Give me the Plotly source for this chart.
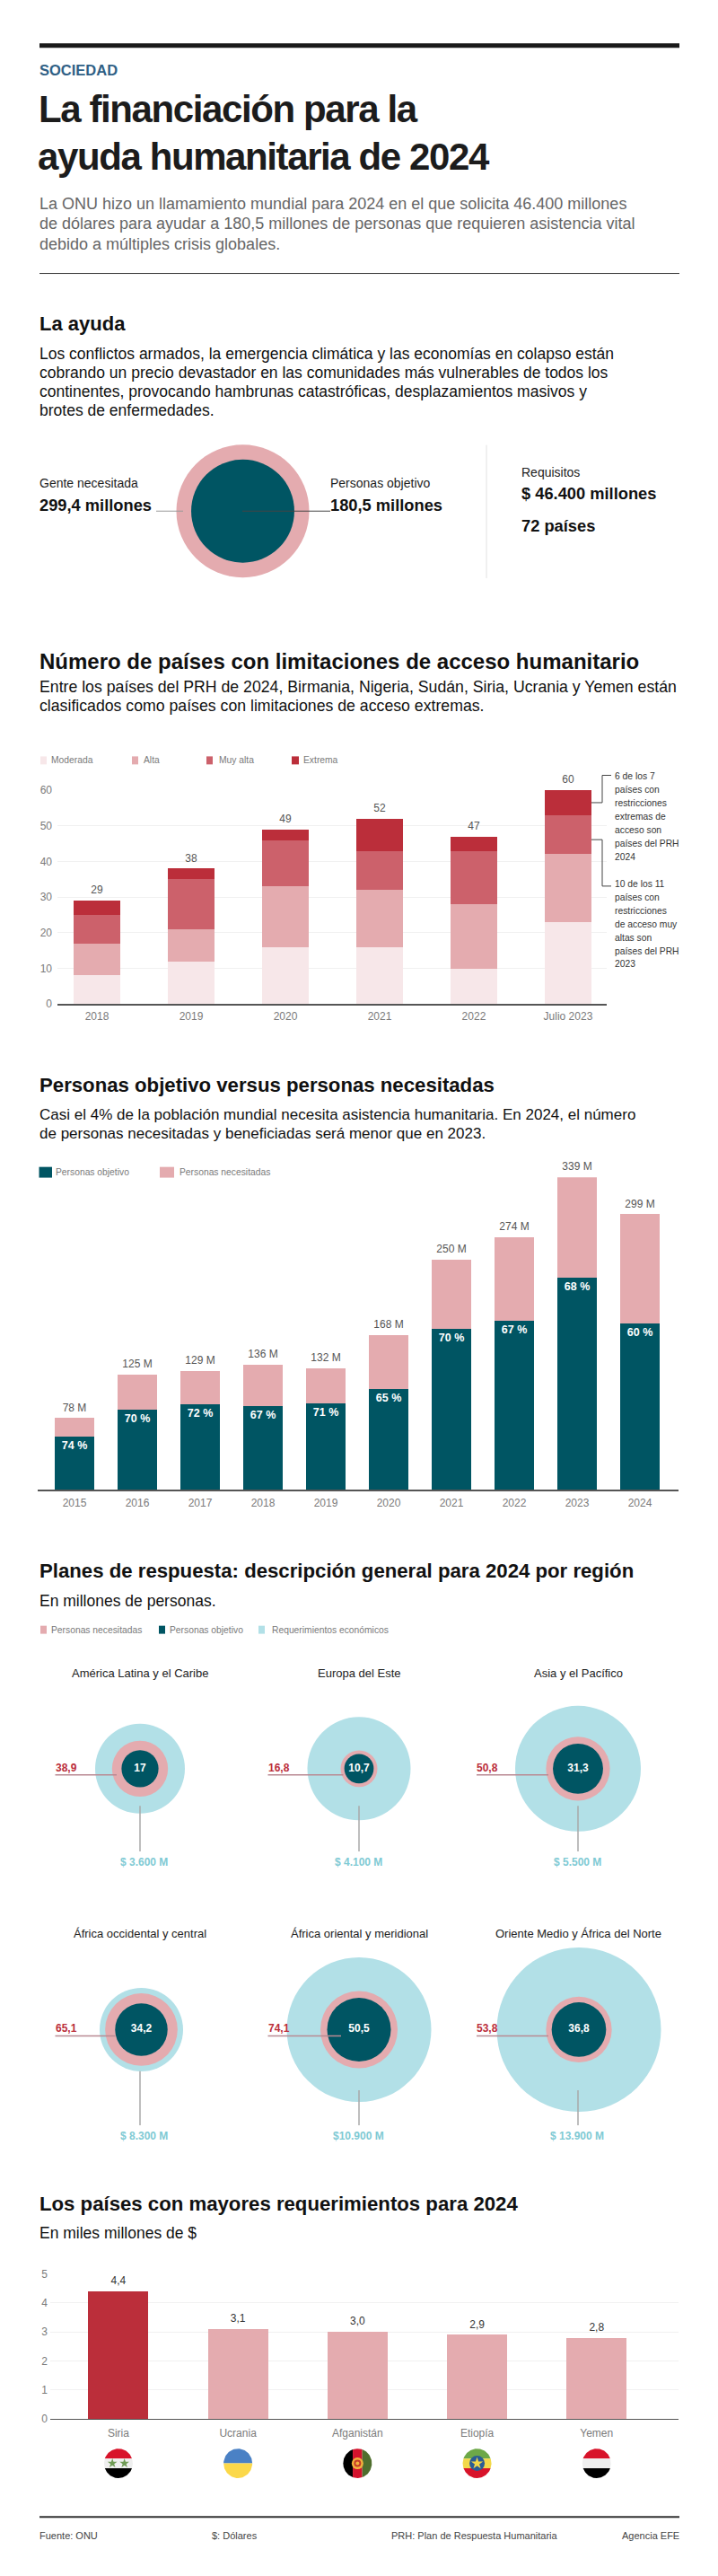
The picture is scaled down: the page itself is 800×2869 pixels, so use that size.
import json
import numpy as np
import plotly.graph_objects as go

W, H = 800, 2869
SANS = "Liberation Sans"

# ---- data ----
need_total = 299.4
need_target = 180.5

access_years = ["2018", "2019", "2020", "2021", "2022", "Julio 2023"]
access_moderada = [8, 12, 16, 16, 10, 23]
access_alta = [9, 9, 17, 16, 18, 19]
access_muy_alta = [8, 14, 13, 11, 15, 11]
access_extrema = [4, 3, 3, 9, 4, 7]
access_totals = [29, 38, 49, 52, 47, 60]

people_years = ["2015", "2016", "2017", "2018", "2019", "2020", "2021", "2022", "2023", "2024"]
people_needed = [78, 125, 129, 136, 132, 168, 250, 274, 339, 299]
people_target = [57.7, 87.5, 92.9, 91, 93.7, 109, 174.5, 183, 230.5, 180.5]
people_pct = ["74 %", "70 %", "72 %", "67 %", "71 %", "65 %", "70 %", "67 %", "68 %", "60 %"]

regions = ["América Latina y el Caribe", "Europa del Este", "Asia y el Pacífico",
           "África occidental y central", "África oriental y meridional", "Oriente Medio y África del Norte"]
region_needed = [38.9, 16.8, 50.8, 65.1, 74.1, 53.8]
region_target = [17, 10.7, 31.3, 34.2, 50.5, 36.8]
region_needed_lbl = ["38,9", "16,8", "50,8", "65,1", "74,1", "53,8"]
region_target_lbl = ["17", "10,7", "31,3", "34,2", "50,5", "36,8"]
region_req_lbl = ["$ 3.600 M", "$ 4.100 M", "$ 5.500 M", "$ 8.300 M", "$10.900 M", "$ 13.900 M"]
region_req_bubble = [100, 115, 140, 93, 161, 183]  # as drawn in the picture (not proportional to $)

countries = ["Siria", "Ucrania", "Afganistán", "Etiopía", "Yemen"]
country_req = [4.4, 3.1, 3.0, 2.9, 2.8]
country_lbl = ["4,4", "3,1", "3,0", "2,9", "2,8"]

# ---- colours ----
TEAL, PINK, LBLUE, RED = "#005563", "#e4abaf", "#b2e0e7", "#bb2e3a"
MOD, MUY = "#f7e7e9", "#cc616b"
GRAY, DGRAY, GRID = "#7a7a7a", "#555555", "#f1f1f1"


def px(x):
    return x / W


def py(y):
    return 1 - y / H


fig = go.Figure()
ann, shp = [], []


def text(x, y, s, size, color="#111111", bold=False, anchor="left"):
    ann.append(dict(x=px(x), y=py(y), xref="paper", yref="paper", text=s, showarrow=False,
                    xanchor=anchor, yanchor="middle", align=anchor, borderpad=0, borderwidth=0,
                    font=dict(family=SANS, size=size, color=color, weight=700 if bold else 400)))


def rule(x0, y0, x1, y1, color, width=1):
    shp.append(dict(type="line", xref="paper", yref="paper", x0=px(x0), y0=py(y0), x1=px(x1), y1=py(y1),
                    line=dict(color=color, width=width)))


def box(x0, y0, x1, y1, color):
    shp.append(dict(type="rect", xref="paper", yref="paper", x0=px(x0), y0=py(y0), x1=px(x1), y1=py(y1),
                    fillcolor=color, line=dict(width=0)))


# ---- header ----
rule(44, 44, 757, 44, "#1a1a1a", 5)
text(44, 71.5, "SOCIEDAD", 16.5, "#2f6085", True)
TITLE_LINES = ["La financiación para la", "ayuda humanitaria de 2024"]
text(43, 115, TITLE_LINES[0], 42, "#1c1c1c", True)
text(42, 168, TITLE_LINES[1], 42, "#1c1c1c", True)
for y, s in zip([221, 243.5, 266], ["La ONU hizo un llamamiento mundial para 2024 en el que solicita 46.400 millones",
                                    "de dólares para ayudar a 180,5 millones de personas que requieren asistencia vital",
                                    "debido a múltiples crisis globales."]):
    text(44, y, s, 18, "#666666")
rule(44, 299, 757, 299, "#333333", 1)

# ---- La ayuda ----
text(44, 355, "La ayuda", 22, "#111111", True)
for y, s in zip([389, 410, 431, 452], ["Los conflictos armados, la emergencia climática y las economías en colapso están",
                                       "cobrando un precio devastador en las comunidades más vulnerables de todos los",
                                       "continentes, provocando hambrunas catastróficas, desplazamientos masivos y",
                                       "brotes de enfermedades."]):
    text(44, y, s, 17.5)

K_MAIN = 148 / np.sqrt(need_total)
fig.add_trace(go.Scatter(x=[0], y=[0], mode="markers", xaxis="x5", yaxis="y5", hoverinfo="skip",
                         marker=dict(size=K_MAIN * np.sqrt(need_total), color=PINK, line=dict(width=0))))
fig.add_trace(go.Scatter(x=[0], y=[0], mode="markers", xaxis="x5", yaxis="y5", hoverinfo="skip",
                         marker=dict(size=K_MAIN * np.sqrt(need_target), color=TEAL, line=dict(width=0))))
text(44, 534, "Gente necesitada", 14, "#222222")
text(44, 558, "299,4 millones", 18.3, "#111111", True)
rule(174, 565, 204, 565, "#999999", 1)
text(368, 534, "Personas objetivo", 14, "#222222")
text(368, 558, "180,5 millones", 18.3, "#111111", True)
rule(270, 565, 368, 565, "#444444", 1)
rule(542, 491, 542, 640, "#e2e2e2", 1)
text(580.5, 522, "Requisitos", 14, "#222222")
text(580.5, 545.5, "$ 46.400 millones", 18.3, "#111111", True)
text(580.5, 581, "72 países", 18.3, "#111111", True)

# ---- access ----
text(44, 733, "Número de países con limitaciones de acceso humanitario", 24, "#111111", True)
text(44, 762, "Entre los países del PRH de 2024, Birmania, Nigeria, Sudán, Siria, Ucrania y Yemen están", 17.7)
text(44, 783, "clasificados como países con limitaciones de acceso extremas.", 17.7)
for x0, x1, c, tx, s in [(45, 52, MOD, 57, "Moderada"), (147, 154, PINK, 160, "Alta"),
                         (230, 237, MUY, 244, "Muy alta"), (325, 333, RED, 338, "Extrema")]:
    box(x0, 839.5, x1, 848.5, c)
    text(tx, 844, s, 10.3, GRAY)
for name, vals, c in [("Moderada", access_moderada, MOD), ("Alta", access_alta, PINK),
                      ("Muy alta", access_muy_alta, MUY), ("Extrema", access_extrema, RED)]:
    fig.add_trace(go.Bar(x=access_years, y=vals, name=name, width=0.5, marker=dict(color=c, line=dict(width=0)),
                         xaxis="x", yaxis="y", showlegend=False, hoverinfo="skip"))
fig.add_trace(go.Scatter(x=access_years, y=access_totals, text=[str(v) for v in access_totals], mode="markers+text",
                         marker=dict(size=6, opacity=0), textposition="top center", xaxis="x", yaxis="y",
                         cliponaxis=False, hoverinfo="skip",
                         textfont=dict(family=SANS, size=12, color=DGRAY)))
for y, s in zip([861.3, 876.7, 891.7, 906.7, 921.7, 936.7, 951.7],
                ["6 de los 7", "países con", "restricciones", "extremas de", "acceso son", "países del PRH", "2024"]):
    text(685, y, s, 10.3, "#333333")
for y, s in zip([982, 997.3, 1012.3, 1027.3, 1042.3, 1057.3, 1072],
                ["10 de los 11", "países con", "restricciones", "de acceso muy", "altas son", "países del PRH", "2023"]):
    text(685, y, s, 10.3, "#333333")
for pts in [[(659, 891.3), (671, 891.3), (671, 860.7), (681, 860.7)],
            [(659, 932.7), (671, 932.7), (671, 984.7), (681, 984.7)]]:
    for a, b in zip(pts[:-1], pts[1:]):
        rule(a[0], a[1], b[0], b[1], "#444444", 1)

# ---- people ----
text(44, 1207.5, "Personas objetivo versus personas necesitadas", 22.2, "#111111", True)
text(44, 1240.5, "Casi el 4% de la población mundial necesita asistencia humanitaria. En 2024, el número", 17)
text(44, 1262, "de personas necesitadas y beneficiadas será menor que en 2023.", 17)
box(43.5, 1299, 58, 1311, TEAL)
text(62, 1305, "Personas objetivo", 10.3, GRAY)
box(178, 1299, 194, 1311, PINK)
text(199.5, 1305, "Personas necesitadas", 10.3, GRAY)
fig.add_trace(go.Bar(x=people_years, y=people_target, width=0.634, marker=dict(color=TEAL, line=dict(width=0)),
                     text=people_pct, textposition="inside", insidetextanchor="end", textangle=0,
                     textfont=dict(family=SANS, size=12.5, color="white", weight=700),
                     xaxis="x2", yaxis="y2", showlegend=False, hoverinfo="skip"))
fig.add_trace(go.Bar(x=people_years, y=[n - t for n, t in zip(people_needed, people_target)], width=0.634,
                     marker=dict(color=PINK, line=dict(width=0)),
                     xaxis="x2", yaxis="y2", showlegend=False, hoverinfo="skip"))
fig.add_trace(go.Scatter(x=people_years, y=people_needed, text=[f"{v} M" for v in people_needed], mode="markers+text",
                         marker=dict(size=6, opacity=0), textposition="top center", xaxis="x2", yaxis="y2",
                         cliponaxis=False, hoverinfo="skip",
                         textfont=dict(family=SANS, size=12, color=DGRAY)))

# ---- regions ----
text(44, 1751, "Planes de respuesta: descripción general para 2024 por región", 22.2, "#111111", True)
text(44, 1784.5, "En millones de personas.", 17.5)
for x0, x1, c, tx, s in [(45, 52, PINK, 57, "Personas necesitadas"), (177, 184, TEAL, 189, "Personas objetivo"),
                         (288, 295, LBLUE, 302.5, "Requerimientos económicos")]:
    box(x0, 1812.5, x1, 1821.5, c)
    text(tx, 1817, s, 10.3, GRAY)

COLS = [156, 400, 644]
ROWS = [1972.5, 2264.5]
col_idx = [0, 1, 2, 0, 1, 2]
row_idx = [0, 0, 0, 1, 1, 1]
K_REG = 10.0
DX = [0, 0, 0, 1.5, 0, 1]
xpos = [c + d / 244 for c, d in zip(col_idx, DX)]
for sizes, c in [(region_req_bubble, LBLUE), ([K_REG * np.sqrt(v) for v in region_needed], PINK),
                 ([K_REG * np.sqrt(v) for v in region_target], TEAL)]:
    fig.add_trace(go.Scatter(x=xpos, y=row_idx, mode="markers", xaxis="x4", yaxis="y4", hoverinfo="skip",
                             marker=dict(size=sizes, sizemode="diameter", color=c, line=dict(width=0), opacity=1)))
fig.add_trace(go.Scatter(x=xpos, y=row_idx, mode="text", text=region_target_lbl, xaxis="x4", yaxis="y4",
                         textposition="middle center", hoverinfo="skip",
                         textfont=dict(family=SANS, size=12, color="white", weight=700)))

LBLX = [61.5, 298.5, 531]
LINE_END = [130, 382.5, 611, 128.5, 380, 611]
STEM_Y0 = [2014, 2014, 2014, 2311, 2332.5, 2332.5]
REQ_X = [160.5, 399.5, 643]
for i, name in enumerate(regions):
    c, r = col_idx[i], row_idx[i]
    cx, cy = COLS[c], ROWS[r]
    text(cx, 1865.5 + r * 292, name, 13, "#222222", anchor="center")
    text(LBLX[c], cy - 1, region_needed_lbl[i], 12, RED, True)
    ly = cy + 7
    rule(LBLX[c], ly, LINE_END[i], ly, "#b98a93", 1.5)
    rule(cx, STEM_Y0[i], cx, cy + 92.5 if r == 0 else cy + 107, "#a9a9a9", 1.5)
    text(REQ_X[c], cy + 104.5 if r == 0 else cy + 119.5, region_req_lbl[i], 12, "#7fcad4", True, anchor="center")

# ---- countries ----
text(44, 2459, "Los países con mayores requerimientos para 2024", 22.2, "#111111", True)
text(44, 2492, "En miles millones de $", 17.5)
fig.add_trace(go.Bar(x=countries, y=country_req, width=0.503, xaxis="x3", yaxis="y3", showlegend=False,
                     marker=dict(color=[RED] + [PINK] * 4, line=dict(width=0)), hoverinfo="skip"))
fig.add_trace(go.Scatter(x=countries, y=country_req, text=country_lbl, mode="markers+text", textposition="top center",
                         marker=dict(size=6, opacity=0), xaxis="x3", yaxis="y3", cliponaxis=False, hoverinfo="skip",
                         textfont=dict(family=SANS, size=12, color="#333333")))

# flags: circular bands
FLAG_UX, FLAG_R = 16 / 133.2, 16.5


def flag_band(i, a, b, color, vertical=False):
    lo, hi = np.arcsin(a), np.arcsin(b)
    t = np.linspace(lo, hi, 30)
    u1, v1 = np.cos(t), np.sin(t)
    u = np.r_[u1, -u1[::-1]]
    v = np.r_[v1, v1[::-1]]
    if vertical:
        u, v = v, u
    fig.add_trace(go.Scatter(x=i + u * FLAG_UX, y=v * FLAG_R, mode="lines", fill="toself", fillcolor=color,
                             line=dict(width=0), xaxis="x6", yaxis="y6", hoverinfo="skip"))


def dot(i, du, dv, size, color, symbol="circle"):
    fig.add_trace(go.Scatter(x=[i + du * FLAG_UX], y=[dv * FLAG_R], mode="markers", xaxis="x6", yaxis="y6",
                             hoverinfo="skip", marker=dict(size=size, color=color, symbol=symbol, line=dict(width=0))))


for i in (0, 4):
    flag_band(i, 0.33, 1, "#d8132a")
    flag_band(i, -0.33, 0.33, "#efefef")
    flag_band(i, -1, -0.33, "#000000")
dot(0, -0.42, 0, 8, "#6f9b55", "star")
dot(0, 0.42, 0, 8, "#6f9b55", "star")
flag_band(1, 0, 1, "#4a81c5")
flag_band(1, -1, 0, "#fbd84a")
flag_band(2, -1, -0.33, "#000000", True)
flag_band(2, -0.33, 0.33, "#d4122c", True)
flag_band(2, 0.33, 1, "#4f6e2e", True)
dot(2, 0, 0, 13, "#f2b23e")
dot(2, 0, 0, 8, "#c53a28")
dot(2, 0, 0, 4, "#f2b23e")
flag_band(3, 0.33, 1, "#6da848")
flag_band(3, -0.33, 0.33, "#f2d84a")
flag_band(3, -1, -0.33, "#d8132a")
dot(3, 0, 0, 17, "#2a5c94")
dot(3, 0, 0, 10, "#f2d84a", "star")

# ---- footer ----
rule(44, 2810, 757, 2810, "#333333", 2)
text(44, 2831, "Fuente: ONU", 11, "#444444")
text(236, 2831, "$: Dólares", 11, "#444444")
text(436, 2831, "PRH: Plan de Respuesta Humanitaria", 11, "#444444")
text(757, 2831, "Agencia EFE", 11, "#444444", anchor="right")

tickf = dict(family=SANS, size=12, color=GRAY)
hidden = dict(visible=False, fixedrange=True)
fig.update_layout(
    width=W, height=H, margin=dict(l=0, r=0, t=0, b=0, pad=0), autosize=False,
    paper_bgcolor="white", plot_bgcolor="rgba(0,0,0,0)", showlegend=False, barmode="stack",
    annotations=ann, shapes=shp,
    xaxis=dict(domain=[px(64), px(676)], type="category", range=[-0.419, 5.41], showgrid=False, showline=True,
               linecolor=DGRAY, linewidth=1.5, ticks="", tickfont=tickf, ticklabelstandoff=2, anchor="y"),
    yaxis=dict(domain=[py(1116.7), py(877.3)], range=[0, 60], dtick=10, gridcolor=GRID, gridwidth=1, zeroline=False,
               showline=False, tickfont=tickf, ticks="", ticklabelstandoff=5, anchor="x"),
    xaxis2=dict(domain=[px(42), px(756)], type="category", range=[-0.586, 9.614], showgrid=False, showline=True,
                linecolor=DGRAY, linewidth=1.5, ticks="", tickfont=tickf, ticklabelstandoff=2, anchor="y2"),
    yaxis2=dict(domain=[py(1660.5), py(1310.6)], range=[0, 339], visible=False, anchor="x2"),
    xaxis3=dict(domain=[px(56), px(756)], type="category", range=[-0.57, 4.685], showgrid=False, showline=True,
                linecolor=DGRAY, linewidth=1, ticks="", tickfont=tickf, ticklabelstandoff=4, anchor="y3"),
    yaxis3=dict(domain=[py(2700.4), py(2538)], range=[0, 5], dtick=1, gridcolor=GRID, zeroline=False,
                tickfont=tickf, ticks="", ticklabelstandoff=2, anchor="x3"),
    xaxis4=dict(domain=[0, 1], range=[-156 / 244, (800 - 156) / 244], anchor="y4", **hidden),
    yaxis4=dict(domain=[py(2450), py(1840)], range=[(1972.5 - 2450) / 292 * -1, (1972.5 - 1840) / 292 * -1],
                anchor="x4", **hidden),
    xaxis5=dict(domain=[px(190.5), px(350.5)], range=[-1, 1], anchor="y5", **hidden),
    yaxis5=dict(domain=[py(645), py(485)], range=[-1, 1], anchor="x5", **hidden),
    xaxis6=dict(domain=[px(56), px(756)], range=[-0.57, 4.685], anchor="y6", **hidden),
    yaxis6=dict(domain=[py(2770), py(2730)], range=[-20, 20], anchor="x6", **hidden),
)
tight_js = ("var tight=%s;document.querySelectorAll('.annotation-text').forEach(function(t){"
            "if(tight.indexOf(t.textContent)>=0){t.style.letterSpacing='-1.4px';}});" % json.dumps(TITLE_LINES))
fig.write_html("out.html", config=dict(displayModeBar=False),
               post_script="document.body.style.margin='0';document.documentElement.style.overflow='hidden';" + tight_js)
